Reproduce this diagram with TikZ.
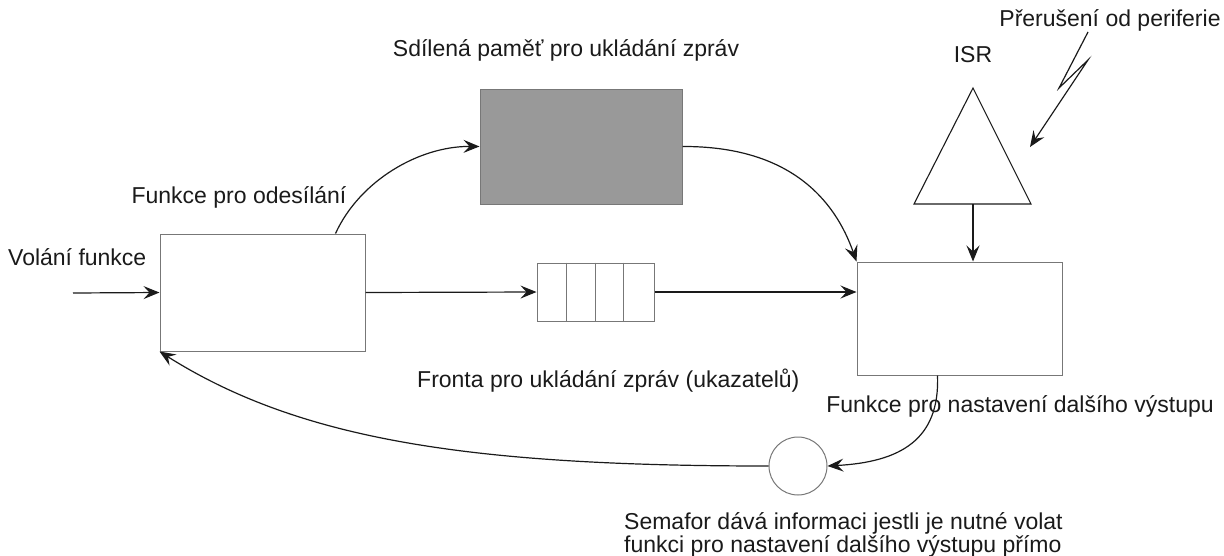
\documentclass[tikz,border=0pt]{standalone}
\usepackage{fontspec}
\setmainfont{Liberation Sans}
\usetikzlibrary{arrows.meta}
\definecolor{edgegray}{HTML}{777777}
\definecolor{memgray}{HTML}{999999}
\definecolor{linecol}{HTML}{1A1A1A}
\begin{document}
\begin{tikzpicture}[x=1pt,y=-1pt,
  every node/.style={font=\fontsize{23}{23}\selectfont,inner sep=0pt,text=linecol},
  box/.style={draw=edgegray,line width=1pt,fill=white,inner sep=0pt},
  conn/.style={draw=linecol,line width=1.2pt,-{Stealth[length=16pt,width=13pt,inset=6pt]}}]
\useasboundingbox (0,0) rectangle (1224,555);

% blocks
\node[box,minimum width=205pt,minimum height=117pt] (send) at (262.5,292.5) {};
\node[box,fill=memgray,minimum width=202pt,minimum height=115pt] (mem) at (581,146.5) {};
\node[box,minimum width=117pt,minimum height=58pt] (queue) at (595.5,292) {};
\foreach \d in {30,59,87}
  \draw[edgegray,line width=1pt] ([xshift=\d pt]queue.north west) -- ([xshift=\d pt]queue.south west);
\node[box,minimum width=205pt,minimum height=113pt] (out) at (959.5,318.5) {};
\node[box,circle,minimum size=58pt] (sem) at (798,466) {};

% interrupt service routine
\draw[linecol,line width=1.1pt,line join=miter] (973,88) -- (1031,204) -- (914,204) -- cycle;
\coordinate (isr) at (973,204);

% labels
\node (lmem) at (566,50) {Sdílená paměť pro ukládání zpráv};
\node (lsend) at (239,197) {Funkce pro odesílání};
\node[anchor=west] (lcall) at (8,257) {Volání funkce};
\node[anchor=west] (lqueue) at (417,381) {Fronta pro ukládání zpráv (ukazatelů)};
\node (lout) at (1020,406) {Funkce pro nastavení dalšího výstupu};
\node (lisr) at (973,55) {ISR};
\node (lirq) at (1110,20) {Přerušení od periferie};
\node[align=left,anchor=north west] (lsem) at (624,512) {Semafor dává informaci jestli je nutné volat\\funkci pro nastavení dalšího výstupu přímo};

% connectors
\coordinate (callin) at (73,293);
\draw[conn] (callin) -- (send.west);
\draw[conn] (send.east) -- (queue.west);
\draw[conn] (queue.east) -- (queue.east -| out.west);
\draw[conn] ([xshift=-30pt]send.north east) .. controls (360,180) and (420,146) .. (mem.west);
\draw[conn] (mem.east) .. controls (790,146) and (835,200) .. (out.north west);
\draw[conn] (isr) -- (out.north -| isr);
\draw[conn] ([xshift=-22pt]out.south) .. controls (940,440) and (900,462) .. (sem.east);
\draw[conn] (sem.west) .. controls (470,466) and (300,440) .. (send.south west);

% interrupt request
\coordinate (z0) at (1088,32);
\coordinate (z1) at (1059,88);
\coordinate (z2) at (1088,60);
\coordinate (z3) at (1030,147);
\draw[conn,line join=miter] (z0) -- (z1) -- (z2) -- (z3);
\end{tikzpicture}
\end{document}
